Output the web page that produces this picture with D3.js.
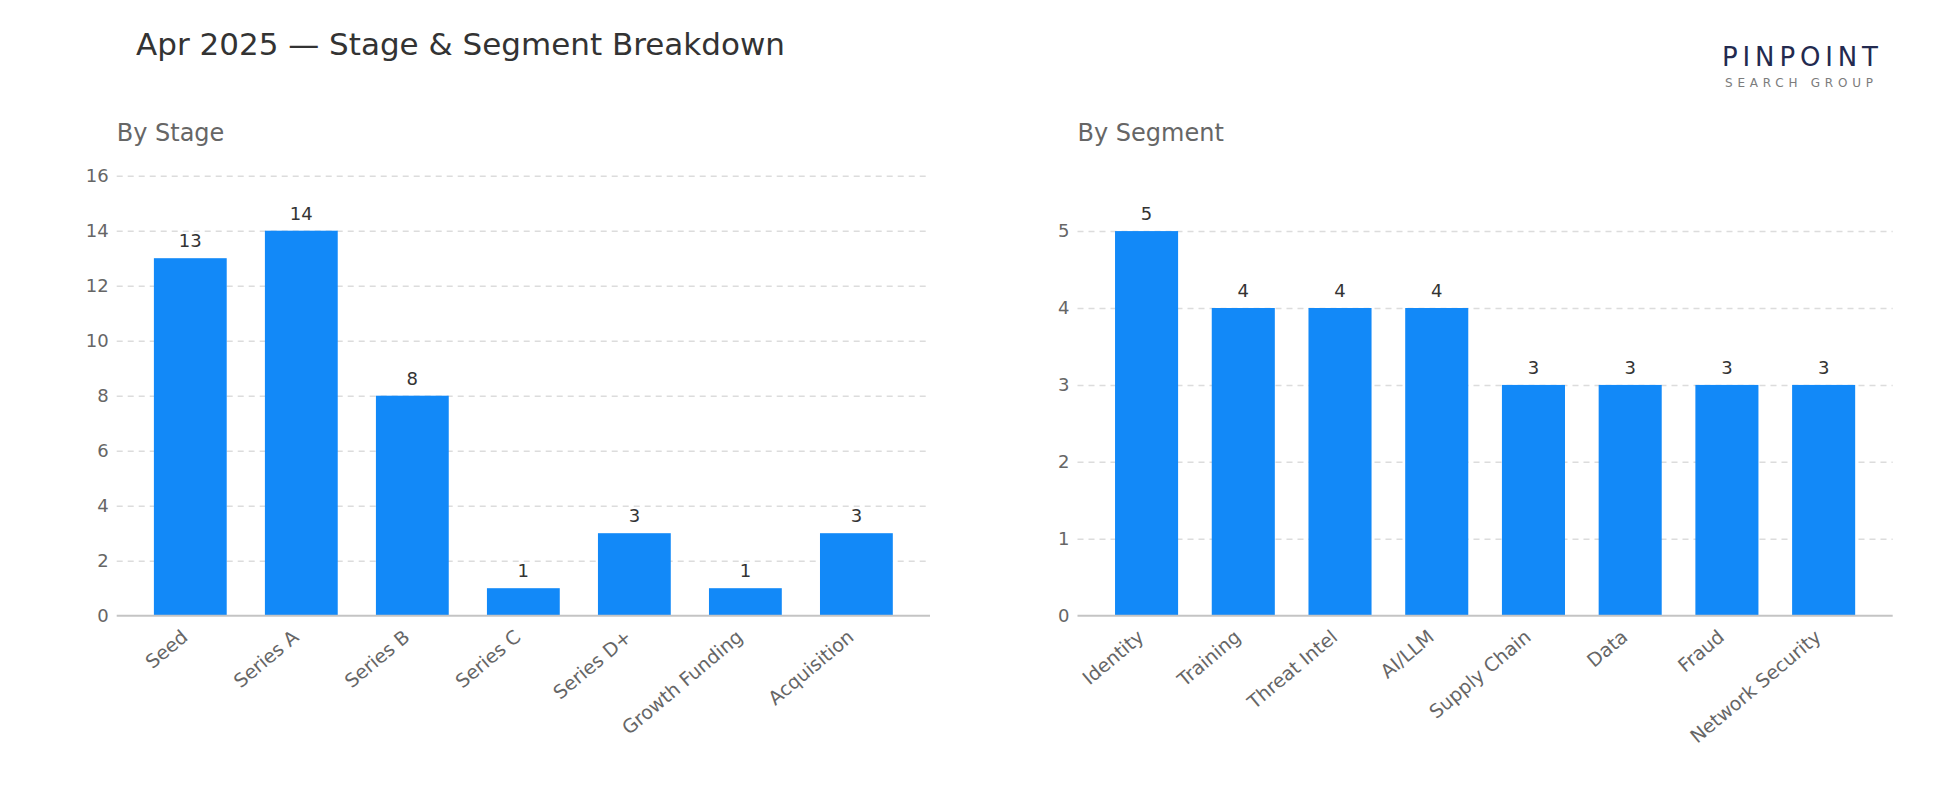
<!DOCTYPE html>
<html>
<head>
<meta charset="utf-8">
<script src="https://cdn.jsdelivr.net/npm/d3@7"></script>
<style>
  html, body { margin: 0; padding: 0; background: #fff; }
  svg { display: block; font-family: "DejaVu Sans", sans-serif; }
</style>
</head>
<body>
<svg id="chart" width="1950" height="810"></svg>
<script>
// ---- Data ----
const titleText = "Apr 2025 \u2014 Stage & Segment Breakdown";
const stageTitle = "By Stage";
const stageCategories = ["Seed", "Series A", "Series B", "Series C", "Series D+", "Growth Funding", "Acquisition"];
const stageValues = [13, 14, 8, 1, 3, 1, 3];
const stageTicks = [0, 2, 4, 6, 8, 10, 12, 14, 16];

const segmentTitle = "By Segment";
const segmentCategories = ["Identity", "Training", "Threat Intel", "AI/LLM", "Supply Chain", "Data", "Fraud", "Network Security"];
const segmentValues = [5, 4, 4, 4, 3, 3, 3, 3];
const segmentTicks = [0, 1, 2, 3, 4, 5];

const logoMain = "PINPOINT";
const logoSub = "SEARCH GROUP";

// ---- Drawing ----
const svg = d3.select("#chart");
const BAR = "#1289f8";

svg.append("text")
  .attr("x", 136).attr("y", 55)
  .attr("font-size", 31).attr("fill", "#333")
  .text(titleText);

// logo
svg.append("text")
  .attr("x", 1722).attr("y", 66)
  .attr("font-size", 26).attr("fill", "#232a4f")
  .attr("textLength", 156).attr("lengthAdjust", "spacing")
  .text(logoMain);
svg.append("text")
  .attr("x", 1725).attr("y", 87)
  .attr("font-size", 12).attr("fill", "#7c7c7c")
  .attr("textLength", 148).attr("lengthAdjust", "spacing")
  .text(logoSub);

function panel(cfg) {
  const g = svg.append("g");
  const x = d3.scaleBand()
    .domain(cfg.categories)
    .range([cfg.x0, cfg.x1])
    .paddingInner(cfg.padIn)
    .paddingOuter(cfg.padOut);
  const y = d3.scaleLinear().domain([0, cfg.yMax]).range([cfg.yBottom, cfg.yTop]);

  g.append("text")
    .attr("x", cfg.x0).attr("y", 141)
    .attr("font-size", 24).attr("fill", "#666")
    .text(cfg.title);

  // grid
  const grid = g.append("g")
    .attr("transform", `translate(${cfg.x0},0)`)
    .call(d3.axisLeft(y).tickValues(cfg.ticks.filter(t => t > 0)).tickSize(-(cfg.x1 - cfg.x0)).tickFormat(""));
  grid.select(".domain").remove();
  grid.selectAll(".tick line")
    .attr("stroke", "#dcdcdc").attr("stroke-width", 1.5).attr("stroke-dasharray", "6,5");

  // y tick labels
  const yAx = g.append("g")
    .attr("transform", `translate(${cfg.x0},0)`)
    .call(d3.axisLeft(y).tickValues(cfg.ticks).tickSize(0).tickPadding(8).tickFormat(d3.format("d")));
  yAx.select(".domain").remove();
  yAx.selectAll("text").attr("font-size", 18).attr("fill", "#666").style("font-family", "DejaVu Sans, sans-serif");

  // bars
  g.selectAll("rect.bar").data(cfg.values).join("rect")
    .attr("class", "bar")
    .attr("x", (d, i) => x(cfg.categories[i]))
    .attr("width", x.bandwidth())
    .attr("y", d => y(d))
    .attr("height", d => y(0) - y(d))
    .attr("fill", BAR);

  // value labels
  g.selectAll("text.val").data(cfg.values).join("text")
    .attr("class", "val")
    .attr("x", (d, i) => x(cfg.categories[i]) + x.bandwidth() / 2)
    .attr("y", d => y(d) - 11)
    .attr("text-anchor", "middle")
    .attr("font-size", 18).attr("fill", "#333")
    .text(d => d);

  // baseline
  g.append("line")
    .attr("x1", cfg.x0).attr("x2", cfg.x1)
    .attr("y1", y(0)).attr("y2", y(0))
    .attr("stroke", "#c4c4c4").attr("stroke-width", 2);

  // x labels
  const xAx = g.append("g")
    .attr("transform", `translate(0,${cfg.yBottom})`)
    .call(d3.axisBottom(x).tickSize(0).tickPadding(0));
  xAx.select(".domain").remove();
  xAx.selectAll("text")
    .attr("font-size", 19).attr("fill", "#666")
    .style("font-family", "DejaVu Sans, sans-serif")
    .attr("text-anchor", "end")
    .attr("dy", "0.71em")
    .attr("transform", "translate(-10,13) rotate(-40)");
}

panel({
  title: stageTitle, categories: stageCategories, values: stageValues, ticks: stageTicks,
  x0: 116.7, x1: 930, yTop: 175.7, yBottom: 615.7, yMax: 16, padIn: 0.344, padOut: 0.335
});
panel({
  title: segmentTitle, categories: segmentCategories, values: segmentValues, ticks: segmentTicks,
  x0: 1077.5, x1: 1892.7, yTop: 175.7, yBottom: 615.7, yMax: 5.72, padIn: 0.348, padOut: 0.388
});
</script>
</body>
</html>
